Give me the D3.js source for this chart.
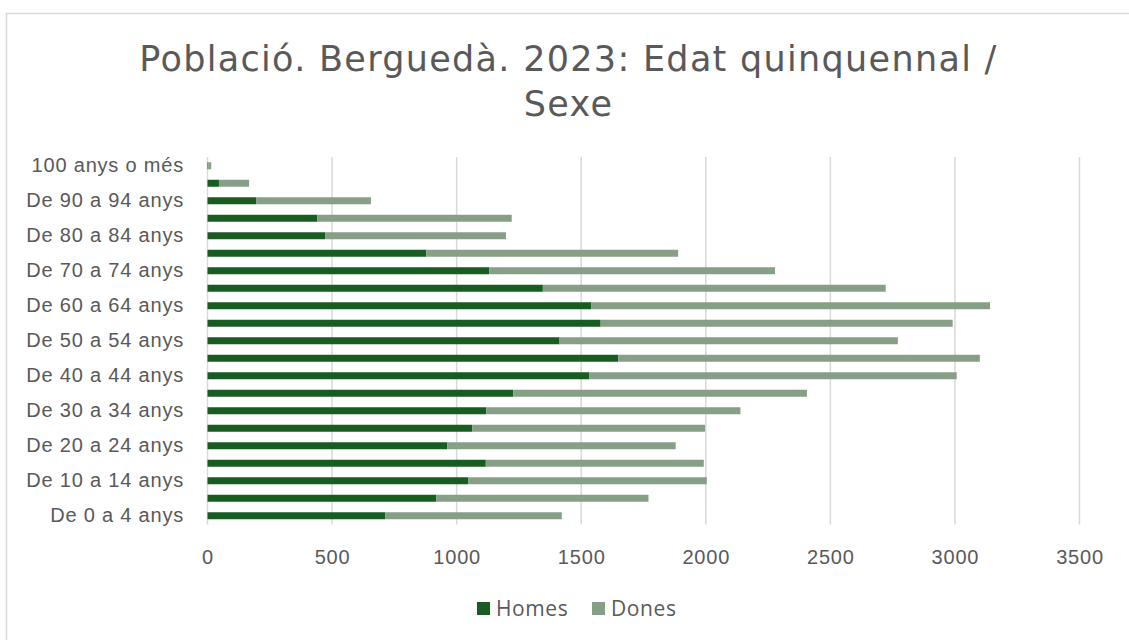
<!DOCTYPE html>
<html>
<head>
<meta charset="utf-8">
<script src="https://cdn.jsdelivr.net/npm/d3@7"></script>
<style>
  body { margin: 0; background: #fff; }
  svg { display: block; font-family: "Open Sans", sans-serif; }
</style>
</head>
<body>
<div id="chart"></div>
<script>
// data (bottom to top, as in the chart)
const ageGroups = [
  "De 0 a 4 anys", "De 5 a 9 anys", "De 10 a 14 anys", "De 15 a 19 anys",
  "De 20 a 24 anys", "De 25 a 29 anys", "De 30 a 34 anys", "De 35 a 39 anys",
  "De 40 a 44 anys", "De 45 a 49 anys", "De 50 a 54 anys", "De 55 a 59 anys",
  "De 60 a 64 anys", "De 65 a 69 anys", "De 70 a 74 anys", "De 75 a 79 anys",
  "De 80 a 84 anys", "De 85 a 89 anys", "De 90 a 94 anys", "De 95 a 99 anys",
  "100 anys o més"
];
const homes = [713, 918, 1047, 1117, 963, 1063, 1119, 1227, 1533, 1649, 1413,
  1578, 1541, 1346, 1131, 878, 472, 440, 195, 46, 3];
const dones = [709, 852, 957, 875, 916, 934, 1020, 1179, 1474, 1451, 1358,
  1413, 1600, 1376, 1147, 1011, 726, 781, 461, 121, 12];
const seriesNames = ["Homes", "Dones"];
const xTicks = [0, 500, 1000, 1500, 2000, 2500, 3000, 3500];
const titleLines = ["Població. Berguedà. 2023: Edat quinquennal /", "Sexe"];

// dimensions
const w = 1129;
const h = 640;
const plotLeft = 207.5;
const plotRight = 1079.5;
const plotTop = 157;
const plotBot = 524.5;
const textColor = "#595959";
const colors = { Homes: "#185c22", Dones: "#879e87" };

const rows = ageGroups.map((g, i) => ({ group: g, Homes: homes[i], Dones: dones[i] }));

const svg = d3.select("#chart")
  .append("svg")
  .attr("width", w)
  .attr("height", h);

// chart frame (right and bottom edges fall outside the window)
svg.append("rect")
  .attr("x", 6.5)
  .attr("y", 13.5)
  .attr("width", w + 20)
  .attr("height", h + 20)
  .attr("fill", "none")
  .attr("stroke", "#d9d9d9")
  .attr("stroke-width", 1.5);

// title, two lines
svg.append("g")
  .selectAll("text")
  .data(titleLines)
  .join("text")
  .attr("text-anchor", "middle")
  .attr("fill", textColor)
  .style("font-family", "'DejaVu Sans', sans-serif")
  .style("font-size", "35px")
  .style("letter-spacing", "1.3px")
  .attr("x", w / 2 + 4)
  .attr("y", (d, i) => 71 + i * 45)
  .text(d => d);

// scales
const xScale = d3.scaleLinear()
  .domain([0, 3500])
  .range([plotLeft, plotRight]);
const yScale = d3.scaleBand()
  .domain(ageGroups)
  .range([plotBot, plotTop])
  .paddingInner(0.6)
  .paddingOuter(0.3);

// gridlines
svg.append("g")
  .selectAll("line")
  .data(xTicks)
  .join("line")
  .attr("x1", d => xScale(d))
  .attr("x2", d => xScale(d))
  .attr("y1", plotTop)
  .attr("y2", plotBot)
  .attr("stroke", "#d9d9d9")
  .attr("stroke-width", 1.5);

// x axis labels
const xAxis = d3.axisBottom(xScale)
  .tickValues(xTicks)
  .tickFormat(d3.format("d"))
  .tickSize(0)
  .tickPadding(0);
const gx = svg.append("g")
  .call(xAxis);
gx.select(".domain").remove();
gx.selectAll("text")
  .attr("y", 564)
  .attr("dy", null)
  .attr("fill", textColor)
  .style("font-size", "20px")
  .style("letter-spacing", "0.8px");

// y axis labels, every other category
const yAxis = d3.axisLeft(yScale)
  .tickValues(ageGroups.filter((d, i) => i % 2 === 0))
  .tickSize(0)
  .tickPadding(0);
const gy = svg.append("g")
  .attr("transform", `translate(184, 0)`)
  .call(yAxis);
gy.select(".domain").remove();
gy.selectAll("text")
  .attr("fill", textColor)
  .style("font-size", "20px")
  .style("letter-spacing", "0.8px");

// stacked bars
const stack = d3.stack().keys(seriesNames);
const stacked = stack(rows);
svg.append("g")
  .selectAll("g")
  .data(stacked)
  .join("g")
  .attr("fill", d => colors[d.key])
  .selectAll("rect")
  .data(d => d)
  .join("rect")
  .attr("x", d => xScale(d[0]))
  .attr("y", d => yScale(d.data.group))
  .attr("width", d => xScale(d[1]) - xScale(d[0]))
  .attr("height", yScale.bandwidth());

// legend
const legendItems = [
  { name: "Homes", x: 477 },
  { name: "Dones", x: 592 }
];
const legend = svg.append("g");
legend.selectAll("rect")
  .data(legendItems)
  .join("rect")
  .attr("x", d => d.x)
  .attr("y", 602)
  .attr("width", 13)
  .attr("height", 13)
  .attr("fill", d => colors[d.name]);
legend.selectAll("text")
  .data(legendItems)
  .join("text")
  .attr("x", d => d.x + 19)
  .attr("y", 616)
  .attr("fill", textColor)
  .style("font-size", "21px")
  .style("letter-spacing", "0.6px")
  .text(d => d.name);
</script>
</body>
</html>
